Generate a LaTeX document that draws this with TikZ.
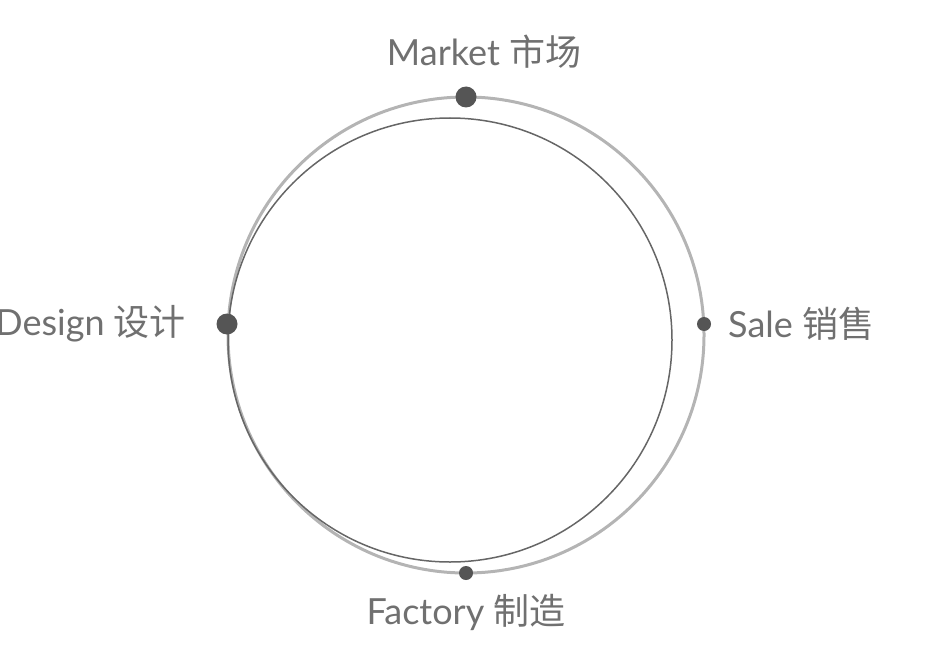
\documentclass[tikz,border=0pt]{standalone}
\usepackage{fontspec}
\setmainfont{Lato}
\newfontfamily\cjk{Noto Sans CJK SC}
\definecolor{ringgray}{HTML}{B4B4B4}
\definecolor{linegray}{HTML}{666666}
\definecolor{dotgray}{HTML}{555555}
\definecolor{textgray}{HTML}{707070}
\tikzset{
	ring/.style={draw=ringgray, line width=3pt},
	innerring/.style={draw=linegray, line width=1.5pt},
	bigdot/.style={circle, fill=dotgray, inner sep=0pt, minimum size=21pt},
	smalldot/.style={circle, fill=dotgray, inner sep=0pt, minimum size=14pt},
	lbl/.style={text=textgray, inner sep=0pt, font=\fontsize{36}{42}\selectfont}
}
\begin{document}
\begin{tikzpicture}[x=1pt, y=-1pt]
		\useasboundingbox (0,0) rectangle (941,655);
		\draw[ring] (466,335) circle [radius=238pt];
		\draw[innerring] (450,340) circle [radius=222pt];

		\draw
		(466,97) node [bigdot] (market) {}
		(227,324) node [bigdot] (design) {}
		(704,324) node [smalldot] (sale) {}
		(466,573) node [smalldot] (factory) {};

		\draw
		(484,52) node [lbl] (marketlbl) {Market {\cjk 市场}}
		(186,324) node [lbl, anchor=east] (designlbl) {Design {\cjk 设计}}
		(728,324) node [lbl, anchor=west] (salelbl) {Sale {\cjk 销售}}
		(466,612) node [lbl] (factorylbl) {Factory {\cjk 制造}};
	\end{tikzpicture}
\end{document}
